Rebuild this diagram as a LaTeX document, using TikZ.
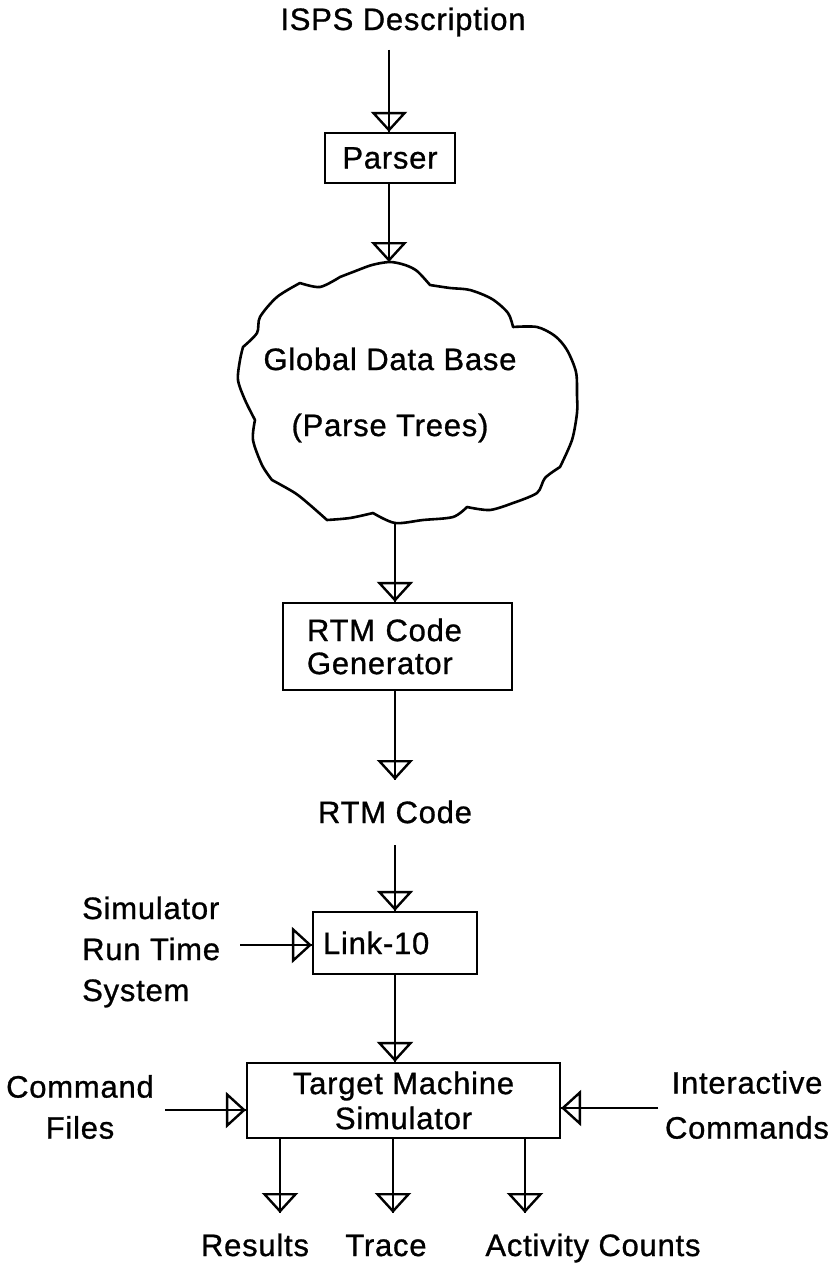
\documentclass[tikz,border=0pt]{standalone}
\usepackage{fontspec}
\setmainfont{Liberation Sans}[LetterSpace=2.5, FakeBold=0.9, BoldFont={Liberation Sans}, BoldFeatures={FakeBold=0.9}]
\newfontfamily\plotfont{Liberation Sans}[LetterSpace=2.5, FakeBold=0.9]
\usetikzlibrary{arrows.meta}
\tikzset{
  lbl/.style={inner sep=0pt, font=\plotfont\fontsize{31}{41}\selectfont},
  box/.style={draw, line width=2.2pt, inner sep=0pt, font=\plotfont\fontsize{31}{35}\selectfont},
  flow/.style={line width=2.6pt, -{Triangle[open, width=36pt, length=20pt, line width=2.4pt]},
               postaction={draw, arrows=-}},
  cloudline/.style={line width=2.6pt, line join=round, line cap=round}
}
\begin{document}
\begin{tikzpicture}[x=1pt, y=-1pt]
\useasboundingbox (0,0) rectangle (838,1268);

% labels
\node[lbl] (isps) at (403,22) {ISPS Description};
\node[lbl] (rtmcode) at (395,812) {RTM Code};
\node[lbl, align=left, anchor=west] (srts) at (82,952) {Simulator\\Run Time\\System};
\node[lbl, align=center] (cmdf) at (80,1107) {Command\\Files};
\node[lbl, align=center, font=\plotfont\fontsize{31}{45}\selectfont] (intc) at (747,1105) {Interactive\\Commands};
\node[lbl, anchor=base] (res) at (255,1256) {Results};
\node[lbl, anchor=base] (trace) at (386,1256) {Trace};
\node[lbl, anchor=base] (act) at (593,1256) {Activity Counts};

% boxes
\node[box, minimum width=130pt, minimum height=50pt] (parser) at (390,158) {Parser};
\node[box, minimum height=87pt, text width=181pt, inner xsep=24pt, align=left,
      font=\plotfont\fontsize{31}{33}\selectfont] (rtm) at (397.5,646.5) {RTM Code\\Generator};
\node[box, minimum height=62pt, text width=144pt, inner xsep=10pt, align=left] (link) at (395,943) {Link-10};
\node[box, minimum width=313pt, minimum height=75pt, align=center] (tms) at (403.5,1100.5) {Target Machine\\Simulator};

% cloud
\node[lbl, align=center, font=\plotfont\fontsize{31}{66}\selectfont] (gdb) at (390,395) {Global Data Base\\(Parse Trees)};
\draw[cloudline]
  plot[smooth] coordinates {(340,277) (353,272) (372,265) (390,262) (405,265) (417,271) (430,285)}
  -- plot[smooth] coordinates {(430,285) (450,288) (470,290) (492,299) (508,313) (513,327)}
  -- plot[smooth] coordinates {(513,327) (537,327) (555,336) (567,350) (576,372) (577,395) (577,413) (572,440) (560,467)}
  -- plot[smooth] coordinates {(560,467) (545,478) (537,493) (513,503)}
  -- plot[smooth] coordinates {(513,503) (490,510) (467,507)}
  -- plot[smooth] coordinates {(467,507) (453,517) (423,520) (395,523) (373,513)}
  -- plot[smooth] coordinates {(373,513) (350,518) (327,520)}
  -- plot[smooth] coordinates {(327,520) (310,505) (295,493) (272,480)}
  -- plot[smooth] coordinates {(272,480) (262,465) (253,440) (255,420)}
  -- plot[smooth] coordinates {(255,420) (245,400) (238,380) (240,360) (243,347)}
  -- plot[smooth] coordinates {(243,347) (257,333) (260,317) (277,297) (300,283)}
  -- plot[smooth] coordinates {(300,283) (320,287) (340,277)};
\coordinate (cloudtop) at (389,262);
\coordinate (cloudbot) at (395,523);

% free ends
\coordinate (a0) at (389,50);
\coordinate (r1) at (395,780);
\coordinate (r2) at (395,845);
\coordinate (s1) at (240,945);
\coordinate (c1) at (165,1110);
\coordinate (i1) at (658,1108);
\coordinate (o1) at (280,1213);
\coordinate (o2) at (393,1213);
\coordinate (o3) at (525,1213);

% connectors
\draw[flow] (a0) -- (a0 |- parser.north);
\draw[flow] (parser.south -| cloudtop) -- (cloudtop);
\draw[flow] (cloudbot) -- (cloudbot |- rtm.north);
\draw[flow] (rtm.south -| r1) -- (r1);
\draw[flow] (r2) -- (r2 |- link.north);
\draw[flow] (s1) -- (s1 -| link.west);
\draw[flow] (link.south) -- (link.south |- tms.north);
\draw[flow] (c1) -- (c1 -| tms.west);
\draw[flow] (i1) -- (i1 -| tms.east);
\draw[flow] (tms.south -| o1) -- (o1);
\draw[flow] (tms.south -| o2) -- (o2);
\draw[flow] (tms.south -| o3) -- (o3);
\end{tikzpicture}
\end{document}
